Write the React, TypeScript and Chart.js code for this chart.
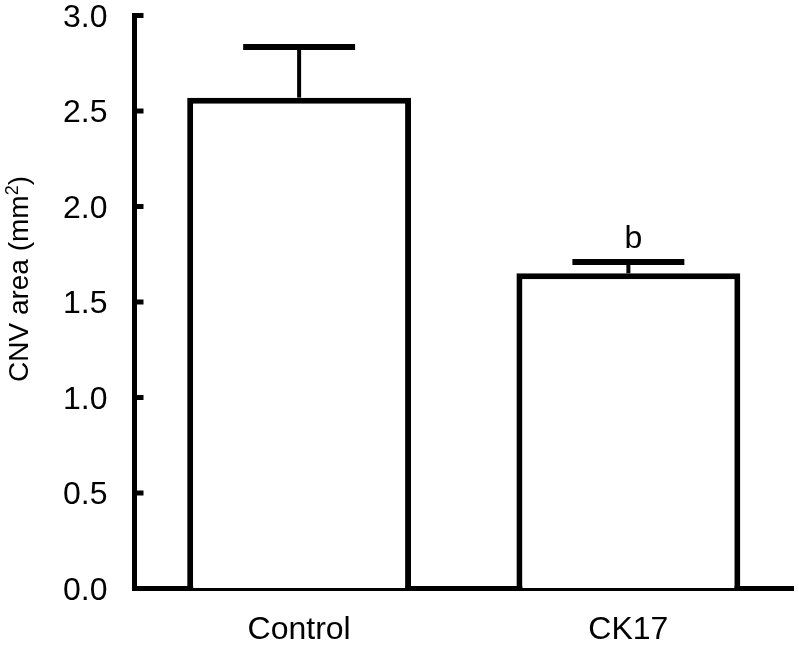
import React, { useEffect, useRef } from "react";
import { Chart, registerables } from "chart.js";

Chart.register(...registerables);

const categories = ["Control", "CK17"];
const means = [2.57, 1.65];
const errors = [0.265, 0.06];
const sigLabels = ["", "b"];
const yTicks = [0, 0.5, 1.0, 1.5, 2.0, 2.5, 3.0];
const yTitleMain = "CNV area (mm";
const yTitleSup = "2";
const yTitleEnd = ")";

const FONT = "'Liberation Sans', Arial, Helvetica, sans-serif";

export default function App() {
  const ref = useRef<HTMLCanvasElement>(null);

  useEffect(() => {
    if (!ref.current) return;

    const errorBars = {
      id: "errorBars",
      afterDatasetsDraw(chart: any) {
        const { ctx } = chart;
        const meta = chart.getDatasetMeta(0);
        const y = chart.scales.y;
        ctx.save();
        ctx.strokeStyle = "#000";
        ctx.lineCap = "butt";
        meta.data.forEach((bar: any, i: number) => {
          const x = bar.x;
          const yTop = y.getPixelForValue(means[i] + errors[i]);
          const yBase = y.getPixelForValue(means[i]);
          ctx.lineWidth = 4;
          ctx.beginPath();
          ctx.moveTo(x, yBase);
          ctx.lineTo(x, yTop);
          ctx.stroke();
          ctx.lineWidth = 6;
          const half = bar.width * 0.25;
          ctx.beginPath();
          ctx.moveTo(x - half, yTop);
          ctx.lineTo(x + half, yTop);
          ctx.stroke();
          if (sigLabels[i]) {
            ctx.fillStyle = "#000";
            ctx.font = `32px ${FONT}`;
            ctx.textAlign = "center";
            ctx.textBaseline = "alphabetic";
            ctx.fillText(sigLabels[i], x + 5, yTop - 14);
          }
        });
        ctx.restore();
      },
    };

    const inwardTicks = {
      id: "inwardTicks",
      afterDraw(chart: any) {
        const { ctx, chartArea } = chart;
        const y = chart.scales.y;
        ctx.save();
        ctx.strokeStyle = "#000";
        ctx.lineWidth = 5;
        y.ticks.forEach((t: any) => {
          const py = y.getPixelForValue(t.value);
          ctx.beginPath();
          ctx.moveTo(chartArea.left, py);
          ctx.lineTo(chartArea.left + 9, py);
          ctx.stroke();
        });
        ctx.restore();
      },
    };

    const yTitle = {
      id: "yTitle",
      afterDraw(chart: any) {
        const { ctx, chartArea } = chart;
        ctx.save();
        ctx.translate(28, (chartArea.top + chartArea.bottom) / 2 - 23);
        ctx.rotate(-Math.PI / 2);
        ctx.fillStyle = "#000";
        ctx.textAlign = "left";
        ctx.textBaseline = "alphabetic";
        ctx.font = `28px ${FONT}`;
        const w1 = ctx.measureText(yTitleMain).width;
        const w3 = ctx.measureText(yTitleEnd).width;
        ctx.font = `18px ${FONT}`;
        const w2 = ctx.measureText(yTitleSup).width;
        const start = -(w1 + w2 + w3) / 2;
        ctx.font = `28px ${FONT}`;
        ctx.fillText(yTitleMain, start, 0);
        ctx.fillText(yTitleEnd, start + w1 + w2, 0);
        ctx.font = `18px ${FONT}`;
        ctx.fillText(yTitleSup, start + w1, -10);
        ctx.restore();
      },
    };

    const chart = new Chart(ref.current, {
      type: "bar",
      data: {
        labels: categories,
        datasets: [
          {
            data: means,
            backgroundColor: "#ffffff",
            borderColor: "#000000",
            borderWidth: 6,
            borderSkipped: "bottom",
            barPercentage: 0.68,
            categoryPercentage: 1.0,
          },
        ],
      },
      options: {
        responsive: false,
        animation: false,
        events: [],
        layout: { padding: { top: 15.5, right: 6, left: 0, bottom: 0 } },
        plugins: {
          legend: { display: false },
          tooltip: { enabled: false },
        },
        scales: {
          x: {
            z: 1,
            grid: { display: true, drawOnChartArea: false, drawTicks: false, color: "transparent" },
            border: { display: true, color: "#000", width: 5 },
            ticks: { font: { size: 32, family: FONT }, color: "#000", padding: 22 },
            afterFit: (s: any) => {
              s.height = 58.5;
              s.paddingLeft = 0;
              s.paddingRight = 0;
            },
          },
          y: {
            min: 0,
            max: 3,
            z: 1,
            grid: { display: true, drawOnChartArea: false, drawTicks: false, color: "transparent" },
            border: { display: true, color: "#000", width: 5 },
            afterBuildTicks: (s: any) => {
              s.ticks = yTicks.map((v) => ({ value: v }));
            },
            ticks: {
              font: { size: 32, family: FONT },
              color: "#000",
              padding: 27,
              labelOffset: 2.5,
              callback: (v: any) => Number(v).toFixed(1),
            },
            afterFit: (s: any) => {
              s.width = 134.5;
              s.paddingTop = 0;
              s.paddingBottom = 0;
            },
          },
        },
      },
      plugins: [errorBars, inwardTicks, yTitle],
    });

    return () => chart.destroy();
  }, []);

  return (
    <div style={{ position: "fixed", left: 0, top: 0, width: 799, height: 647, background: "#fff" }}>
      <canvas ref={ref} width={799} height={647} style={{ display: "block" }} />
    </div>
  );
}
